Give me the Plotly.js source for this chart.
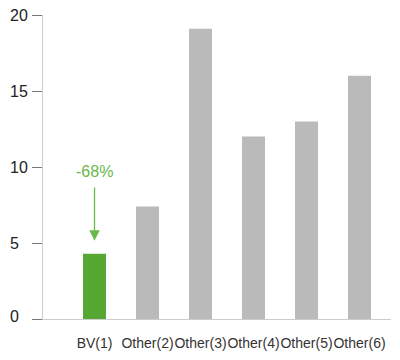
<!DOCTYPE html>
<html><head><meta charset="utf-8">
<script src="https://cdn.plot.ly/plotly-3.0.1.min.js"></script>
<style>html,body{margin:0;padding:0;background:#fff}#chart{width:400px;height:360px}</style>
</head><body><div id="chart"></div>
<script>
const categories = ["BV(1)", "Other(2)", "Other(3)", "Other(4)", "Other(5)", "Other(6)"];
const values = [4.3, 7.4, 19.1, 12.0, 13.0, 16.0];
const barColors = ["#57a833", "#bababa", "#bababa", "#bababa", "#bababa", "#bababa"];
const yTicks = [0, 5, 10, 15, 20];
const annotationText = "-68%";

const trace = {
  type: "bar",
  x: categories,
  y: values,
  marker: {color: barColors},
  width: 0.434,
  hoverinfo: "none"
};

const tickLabelAnns = yTicks.map(v => ({
  x: -35 / 348, xref: "paper", xanchor: "left",
  y: v, yref: "y", yanchor: "middle", yshift: v === 0 ? 3 : 0,
  text: String(v), showarrow: false,
  font: {size: 16, color: "#222"}
}));

const layout = {
  width: 400, height: 360,
  margin: {l: 43, r: 9, t: 15, b: 41},
  paper_bgcolor: "#fff", plot_bgcolor: "#fff",
  showlegend: false,
  font: {family: "Liberation Sans, Arial, sans-serif", color: "#333"},
  xaxis: {
    type: "category",
    range: [-0.972, 5.594],
    showline: true, linecolor: "#cccccc", linewidth: 1,
    ticks: "", showgrid: false, zeroline: false,
    tickangle: 0,
    tickfont: {size: 14, color: "#333"},
    ticklabelstandoff: 11
  },
  yaxis: {
    range: [0, 20],
    tickvals: yTicks,
    showticklabels: false,
    showline: true, linecolor: "#cccccc", linewidth: 1,
    ticks: "outside", ticklen: 10, tickcolor: "#777", tickwidth: 1,
    showgrid: false, zeroline: false
  },
  annotations: [
    {
      x: categories[0], y: values[0] + 0.85, xref: "x", yref: "y",
      ax: categories[0], ay: values[0] + 4.45, axref: "x", ayref: "y",
      text: "", showarrow: true,
      arrowhead: 2, arrowsize: 1.6, arrowwidth: 1.3, arrowcolor: "#6ab84a"
    },
    {
      x: categories[0], y: values[0] + 5.4, xref: "x", yref: "y",
      text: annotationText, showarrow: false,
      font: {size: 16, color: "#6ab84a"}
    }
  ].concat(tickLabelAnns)
};

Plotly.newPlot("chart", [trace], layout, {staticPlot: true, displayModeBar: false});
</script></body></html>
